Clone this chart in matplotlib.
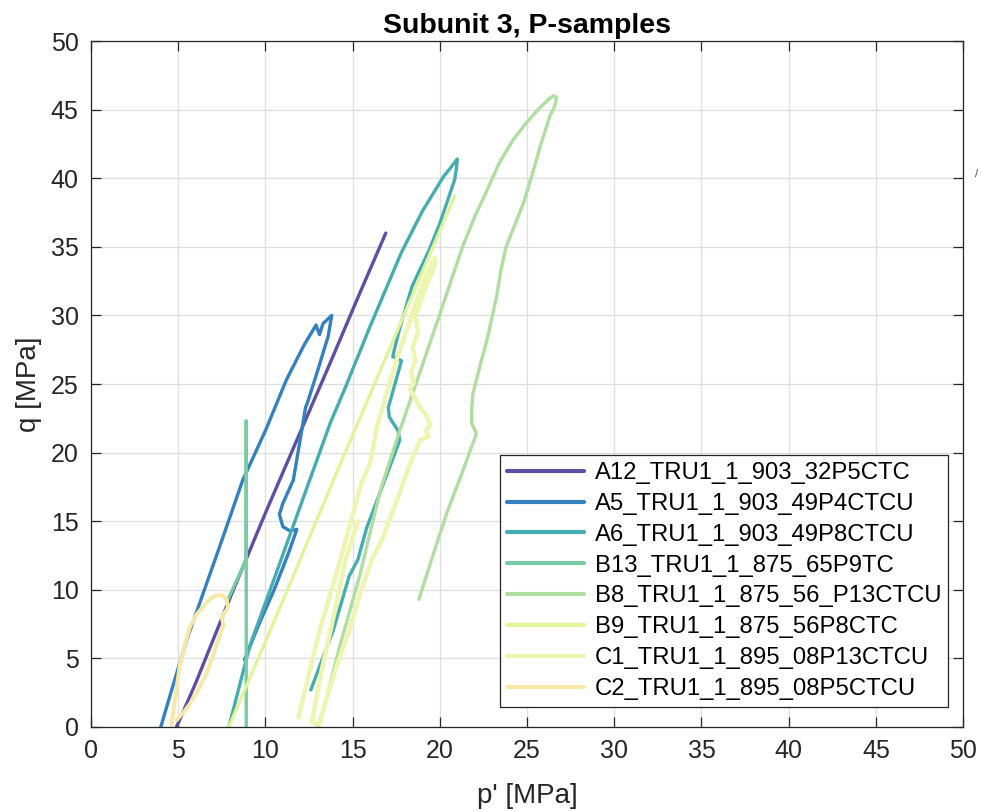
import matplotlib
matplotlib.use("Agg")
import matplotlib.pyplot as plt

plt.rcParams["font.family"] = ["Liberation Sans", "DejaVu Sans"]

# p' / q paths per sample [MPa]
A12_p = [4.9, 6.0, 8.0, 10.0, 12.0, 13.7, 15.3, 16.9]
A12_q = [0.0, 3.2, 9.5, 15.6, 21.5, 26.5, 31.3, 36.0]

A5_p = [4.0, 4.6, 5.5, 6.5, 7.5, 8.7, 10.0, 11.2, 12.2, 12.9, 13.1, 13.3, 13.8,
        13.6, 13.0, 12.4, 12.3, 12.0, 11.6, 11.0, 10.8, 11.0, 11.4, 11.8,
        11.3, 10.5, 9.6, 8.8]
A5_q = [0.0, 2.6, 6.4, 10.0, 13.6, 18.0, 21.6, 25.3, 27.8, 29.3, 28.6, 29.4, 30.0,
        28.5, 26.0, 23.6, 23.3, 21.0, 18.0, 16.3, 15.5, 14.6, 14.3, 14.4,
        12.6, 10.0, 7.4, 4.9]

A6_p = [7.9, 9.1, 10.5, 12.0, 13.7, 14.6, 16.0, 17.8, 19.0, 20.2, 20.7, 21.0,
        20.95, 20.85, 20.0, 19.4, 18.4, 17.6, 17.3, 17.8, 17.05, 17.1, 17.6, 17.7,
        17.05, 15.8, 15.3, 14.8, 13.9, 12.6]
A6_q = [0.0, 5.9, 10.8, 16.1, 22.1, 24.8, 29.2, 34.6, 37.6, 40.1, 40.9, 41.4,
        40.7, 39.9, 36.7, 34.8, 32.1, 28.6, 27.0, 26.7, 23.3, 22.6, 21.6, 20.9,
        18.7, 14.5, 12.2, 11.0, 7.1, 2.7]

B13_p = [8.9, 8.9, 8.9, 7.85]
B13_q = [0.0, 22.3, 12.2, 9.3]

B8_p = [13.0, 13.4, 14.2, 15.4, 16.6, 17.7, 18.9, 20.0, 21.3, 22.0, 22.7, 23.4,
        24.2, 25.0, 25.7, 26.2, 26.5, 26.7, 26.6, 26.3, 25.75, 25.3, 24.8,
        24.3, 23.8, 23.5, 23.26, 22.7, 22.4, 22.1, 21.9, 21.83, 21.83, 22.1,
        21.3, 20.4, 19.6, 18.8]
B8_q = [0.0, 1.6, 5.6, 11.0, 17.3, 21.6, 26.0, 30.1, 35.0, 37.2, 39.1, 41.1,
        42.8, 44.1, 45.1, 45.7, 46.0, 45.9, 45.3, 44.5, 42.3, 40.3, 38.2,
        36.6, 35.0, 33.3, 31.4, 28.2, 26.8, 25.3, 24.3, 23.3, 22.1, 21.4,
        18.6, 15.6, 12.5, 9.3]

B9_p = [7.9, 11.0, 14.1, 17.5, 20.85]
B9_q = [0.0, 9.2, 18.6, 28.7, 38.7]

C1_p = [11.9, 12.5, 13.1, 13.7, 14.3, 14.9, 15.5, 16.0, 16.4, 16.95, 17.5, 18.1,
        18.67, 19.2, 19.7, 19.75, 19.3, 18.9, 18.6, 18.75, 18.45, 18.6, 18.35,
        18.5, 18.3, 18.6, 18.96, 19.15, 19.34, 19.45, 19.2, 19.35, 18.86, 18.3,
        17.5, 16.7, 16.1, 15.4, 14.8, 14.1, 13.5, 13.1, 12.65, 13.2, 13.9,
        14.6, 15.3]
C1_q = [0.7, 3.9, 7.0, 9.6, 12.2, 15.0, 17.8, 19.2, 21.9, 24.3, 26.7, 28.9,
        31.1, 32.9, 34.2, 33.8, 32.4, 31.0, 29.9, 28.8, 27.7, 26.7, 25.9,
        25.1, 24.6, 23.9, 23.1, 22.9, 22.4, 22.0, 21.6, 21.2, 20.9, 19.2,
        16.4, 13.7, 12.2, 9.6, 7.0, 4.5, 2.1, 0.2, 0.3, 4.0, 8.0,
        12.2, 15.0]

C2_p = [4.62, 4.85, 5.1, 5.4, 5.68, 6.05, 6.44, 6.8, 7.2, 7.55, 7.78, 7.85,
        7.49, 7.6, 7.1, 6.63, 6.1, 5.68, 5.25, 4.91]
C2_q = [0.15, 2.3, 4.6, 6.1, 7.3, 8.2, 8.8, 9.3, 9.6, 9.6, 9.3, 8.7,
        8.0, 7.4, 5.6, 3.9, 2.6, 1.7, 1.0, 0.5]

labels = ["A12_TRU1_1_903_32P5CTC", "A5_TRU1_1_903_49P4CTCU",
          "A6_TRU1_1_903_49P8CTCU", "B13_TRU1_1_875_65P9TC",
          "B8_TRU1_1_875_56_P13CTCU", "B9_TRU1_1_875_56P8CTC",
          "C1_TRU1_1_895_08P13CTCU", "C2_TRU1_1_895_08P5CTCU"]
colors = ["#5e4fa2", "#3580be", "#45adb2", "#78cba2",
          "#afdea0", "#e1f49a", "#eef5b0", "#f6e8a6"]
widths = [2.4, 2.4, 2.4, 2.4, 2.4, 2.4, 3.2, 2.8]

fig = plt.figure(figsize=(9.82, 8.11), dpi=100)
ax = fig.add_axes([0.0927, 0.1036, 0.888, 0.8458])

paths = [(A12_p, A12_q), (A5_p, A5_q), (A6_p, A6_q), (B13_p, B13_q),
         (B8_p, B8_q), (B9_p, B9_q), (C1_p, C1_q), (C2_p, C2_q)]
for (p, q), lbl, c, w in zip(paths, labels, colors, widths):
    ax.plot(p, q, color=c, lw=w, label=lbl, solid_capstyle="round",
            solid_joinstyle="round")

ax.set_xlim(0, 50)
ax.set_ylim(0, 50)
ax.set_xticks(range(0, 51, 5))
ax.set_yticks(range(0, 51, 5))
ax.grid(True, color="#dedede", lw=0.9)
ax.set_axisbelow(True)
ax.tick_params(direction="in", length=7, width=0.9, top=True, right=True,
               labelsize=18, colors="#262626", pad=9)
for s in ax.spines.values():
    s.set_color("#262626")
    s.set_linewidth(0.9)

ax.set_xlabel("p' [MPa]", fontsize=20, color="#262626", labelpad=14)
ax.set_ylabel("q [MPa]", fontsize=20, color="#262626", labelpad=6)
ax.set_title("Subunit 3, P-samples", fontsize=20.5, fontweight="bold", pad=6)

leg = ax.legend(loc="lower right", bbox_to_anchor=(0.983, 0.029), fontsize=17.2,
                handlelength=3.2, handletextpad=0.45, labelspacing=0.37,
                borderpad=0.3, fancybox=False, framealpha=1, borderaxespad=0)
leg.get_frame().set_edgecolor("#262626")
leg.get_frame().set_linewidth(0.9)
for h in leg.get_lines():
    h.set_linewidth(3)

fig.text(0.994, 0.786, "/", fontsize=8, color="#444444", ha="center", va="center")

fig.savefig("out.png", dpi=100)
